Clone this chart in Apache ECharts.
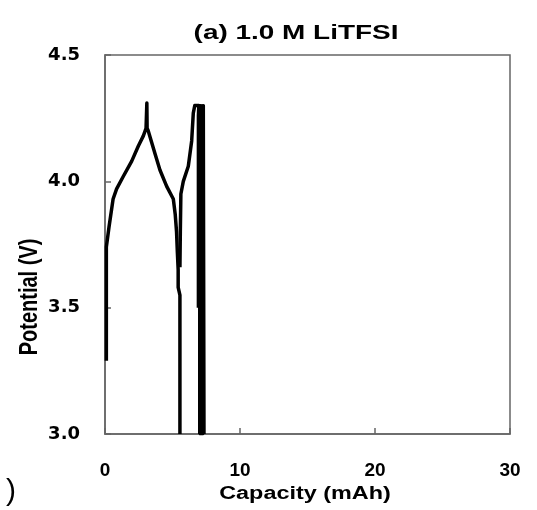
<!DOCTYPE html>
<html><head><meta charset="utf-8">
<script src="https://cdn.jsdelivr.net/npm/echarts@6/dist/echarts.min.js"></script>
<style>html,body{margin:0;padding:0;background:#fff}#c{width:537px;height:510px}</style>
</head><body><div id="c"></div>
<script>
var titleText = '(a) 1.0 M LiTFSI';
var xName = 'Capacity (mAh)';
var yName = 'Potential (V)';
var xTicks = [0, 10, 20, 30];
var yTicks = [3.0, 3.5, 4.0, 4.5];

// first charge + discharge
var cycle1 = [[0.1,3.29],[0.1,3.74],[0.3,3.82],[0.6,3.93],[0.86,3.97],[1.36,4.02],[1.98,4.08],[2.47,4.14],[2.84,4.18],[3.04,4.21],[3.1,4.31],[3.12,4.21],[3.2,4.20],[3.7,4.11],[4.07,4.045],[4.57,3.98],[5.06,3.93],[5.2,3.87],[5.3,3.80],[5.36,3.72],[5.42,3.65],[5.42,3.58],[5.55,3.55],[5.55,3.0]];
// second charge
var cycle2 = [[5.55,3.66],[5.58,3.80],[5.62,3.95],[5.8,4.00],[6.17,4.06],[6.42,4.16],[6.54,4.27],[6.65,4.30],[6.95,4.30],[6.92,4.26],[6.92,3.5]];
// repeated cycles (vertical charge/discharge at ~7 mAh)
var cycles3 = [[7.0,3.0],[7.0,4.30],[7.05,4.30],[7.05,3.0],[7.1,3.0],[7.1,4.30],[7.15,4.30],[7.15,3.0],[7.2,3.0],[7.2,4.30],[7.25,4.30],[7.25,3.0],[7.3,3.0],[7.3,4.30],[7.35,4.30],[7.35,3.0]];

var chart = echarts.init(document.getElementById('c'));
var F = '"Liberation Sans", Arial, sans-serif';
var FD = '"DejaVu Sans", sans-serif';
function ln(d, w){return {type:'line', data:d, showSymbol:false, symbol:'none', lineStyle:{color:'#000', width:w, join:'round'}, animation:false};}
chart.setOption({
  animation:false,
  grid:{left:105, right:27, top:55, bottom:76, show:true, borderColor:'#666', borderWidth:1.5, containLabel:false},
  xAxis:{type:'value', min:0, max:30, interval:10,
    axisLine:{show:true, lineStyle:{color:'#666', width:1.5}},
    axisTick:{show:true, inside:true, length:6, lineStyle:{color:'#666', width:1.5}},
    splitLine:{show:false},
    axisLabel:{color:'#000', fontFamily:F, fontWeight:'bold', fontSize:19, margin:27,
      formatter:function(v){return xTicks.indexOf(v)>=0 ? String(v) : '';}}},
  yAxis:{type:'value', min:3.0, max:4.5, interval:0.5,
    axisLine:{show:true, lineStyle:{color:'#666', width:1.5}},
    axisTick:{show:true, inside:true, length:6, lineStyle:{color:'#666', width:1.5}},
    splitLine:{show:false},
    axisLabel:{color:'#000', fontFamily:FD, fontWeight:'bold', fontSize:18, margin:25,
      formatter:function(v){return yTicks.indexOf(v)>=0 ? v.toFixed(1) : '';}}},
  series:[ln(cycle1,3.5), ln(cycle2,3.5), ln(cycles3,3)],
  graphic:[
    {type:'text', x:296, y:33, scaleX:1.33, style:{text:titleText, x:0, y:0, textAlign:'center', textVerticalAlign:'middle', font:'bold 21px '+F, fill:'#000'}},
    {type:'text', x:305, y:494, scaleX:1.3, style:{text:xName, x:0, y:0, textAlign:'center', textVerticalAlign:'middle', font:'bold 18px '+F, fill:'#000'}},
    {type:'text', x:30, y:297, rotation:Math.PI/2, scaleY:1.25, style:{text:yName, x:0, y:0, textAlign:'center', textVerticalAlign:'middle', font:'bold 20px '+F, fill:'#000'}},
    {type:'text', style:{text:')', x:11, y:492, textAlign:'center', textVerticalAlign:'middle', font:'30px '+F, fill:'#000'}}
  ]
});
</script></body></html>
